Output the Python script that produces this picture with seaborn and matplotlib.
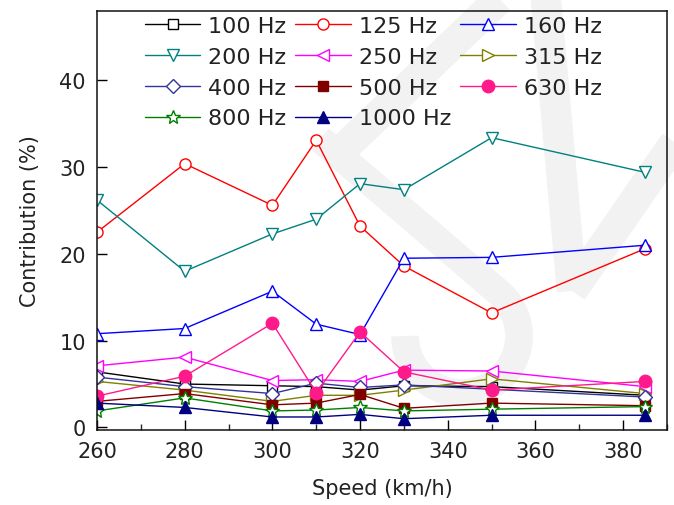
import matplotlib
matplotlib.use("Agg")
import matplotlib.pyplot as plt
from matplotlib.lines import Line2D
from matplotlib.ticker import MultipleLocator
import numpy as np
import pandas as pd
import seaborn as sns

# Train speed (km/h)
speeds = [260, 280, 300, 310, 320, 330, 350, 385]

# Contribution (%) of each one-third-octave band
bands = ["100 Hz", "125 Hz", "160 Hz", "200 Hz", "250 Hz", "315 Hz",
         "400 Hz", "500 Hz", "630 Hz", "800 Hz", "1000 Hz"]
hz100 = [6.4, 5.0, 4.8, 4.7, 4.3, 4.8, 4.7, 3.7]
hz125 = [22.5, 30.4, 25.6, 33.1, 23.2, 18.6, 13.2, 20.6]
hz160 = [10.8, 11.4, 15.7, 11.9, 10.7, 19.5, 19.6, 21.0]
hz200 = [26.2, 18.0, 22.3, 24.0, 28.1, 27.4, 33.4, 29.4]
hz250 = [7.1, 8.1, 5.4, 5.5, 5.3, 6.6, 6.5, 4.7]
hz315 = [5.3, 4.3, 3.0, 3.7, 3.7, 4.3, 5.6, 3.9]
hz400 = [5.8, 4.7, 3.9, 5.1, 4.6, 4.9, 4.4, 3.5]
hz500 = [3.0, 3.9, 2.6, 2.8, 3.8, 2.2, 2.8, 2.5]
hz630 = [3.6, 5.9, 12.0, 4.0, 11.0, 6.4, 4.3, 5.3]
hz800 = [1.9, 3.4, 1.9, 2.0, 2.3, 1.9, 2.1, 2.4]
hz1000 = [2.8, 2.3, 1.2, 1.2, 1.5, 1.0, 1.4, 1.4]
series = [hz100, hz125, hz160, hz200, hz250, hz315,
          hz400, hz500, hz630, hz800, hz1000]

df = pd.concat(
    [pd.DataFrame({"speed": speeds, "contribution": vals, "band": name})
     for name, vals in zip(bands, series)],
    ignore_index=True,
)

# colour, marker, filled, marker size
styles = {
    "100 Hz": ("#000000", "s", False, 6.5),
    "125 Hz": ("#ff0000", "o", False, 8),
    "160 Hz": ("#0000ff", "^", False, 9),
    "200 Hz": ("#008080", "v", False, 9),
    "250 Hz": ("#ff00ff", "<", False, 9),
    "315 Hz": ("#808000", ">", False, 9),
    "400 Hz": ("#333399", "D", False, 7),
    "500 Hz": ("#800000", "s", True, 7),
    "630 Hz": ("#ff1a8c", "o", True, 9),
    "800 Hz": ("#008000", "*", False, 10),
    "1000 Hz": ("#000080", "^", True, 9),
}

W, H, DPI = 674, 506, 100
fig = plt.figure(figsize=(W / DPI, H / DPI), dpi=DPI)
sns.set_style("ticks")
plt.rcParams["font.family"] = ["DejaVu Sans"]

ax = fig.add_axes([97 / W, 1 - 431 / H, 570 / W, 419 / H])
ax.patch.set_alpha(0)


# faint background logo strokes, given in figure pixels from the top-left
def px(pts):
    xs = [p[0] / W for p in pts]
    ys = [1 - p[1] / H for p in pts]
    return xs, ys


logo = "#f2f2f2"
t = np.radians(np.linspace(-50, 180, 80))
cx, cy, r = 462, 337, 57
hook = [(320, 140)] + list(zip(cx + r * np.cos(t), cy + r * np.sin(t)))
for pts, lw in [
    ([(510, -10), (345, 148)], 22),
    (hook, 20),
    ([(545, -10), (572, 292)], 22),
    ([(705, 100), (572, 292)], 22),
]:
    xs, ys = px(pts)
    fig.add_artist(Line2D(xs, ys, transform=fig.transFigure, color=logo,
                          lw=lw, solid_capstyle="butt",
                          solid_joinstyle="round", zorder=-1))

for name in bands:
    color, marker, filled, ms = styles[name]
    sns.lineplot(
        data=df[df["band"] == name], x="speed", y="contribution", ax=ax,
        color=color, linewidth=1.0, marker=marker, markersize=ms,
        markerfacecolor=color if filled else "white",
        markeredgecolor=color, markeredgewidth=1.0,
        estimator=None, sort=False, label=name,
    )

ax.set_xlim(260, 390)
ax.set_ylim(-0.3, 48)
ax.xaxis.set_major_locator(MultipleLocator(20))
ax.xaxis.set_minor_locator(MultipleLocator(10))
ax.yaxis.set_major_locator(MultipleLocator(10))
ax.tick_params(axis="both", which="major", direction="in", length=7,
               width=1.0, labelsize=15, colors="#000000", labelcolor="#222222")
ax.tick_params(axis="x", which="major", pad=8)
ax.tick_params(axis="y", which="major", pad=8)
ax.tick_params(axis="x", which="minor", direction="in", length=4, width=1.0)
for s in ax.spines.values():
    s.set_visible(True)
    s.set_linewidth(1.1)
    s.set_color("#111111")

ax.set_xlabel("Speed (km/h)", fontsize=15, color="#222222", labelpad=12)
ax.set_ylabel("Contribution (%)", fontsize=15, color="#222222", labelpad=14)

handles, labels = ax.get_legend_handles_labels()
order = [0, 3, 6, 9, 1, 4, 7, 10, 2, 5, 8]
leg = ax.legend(
    [handles[i] for i in order], [labels[i] for i in order],
    ncol=3, loc="upper left", bbox_to_anchor=(0.084, 0.988),
    frameon=False, fontsize=16, handlelength=2.5, handletextpad=0.36,
    columnspacing=0.4, labelspacing=0.485, borderpad=0, borderaxespad=0,
)
for txt in leg.get_texts():
    txt.set_color("#222222")

fig.savefig("out.png", dpi=DPI)
